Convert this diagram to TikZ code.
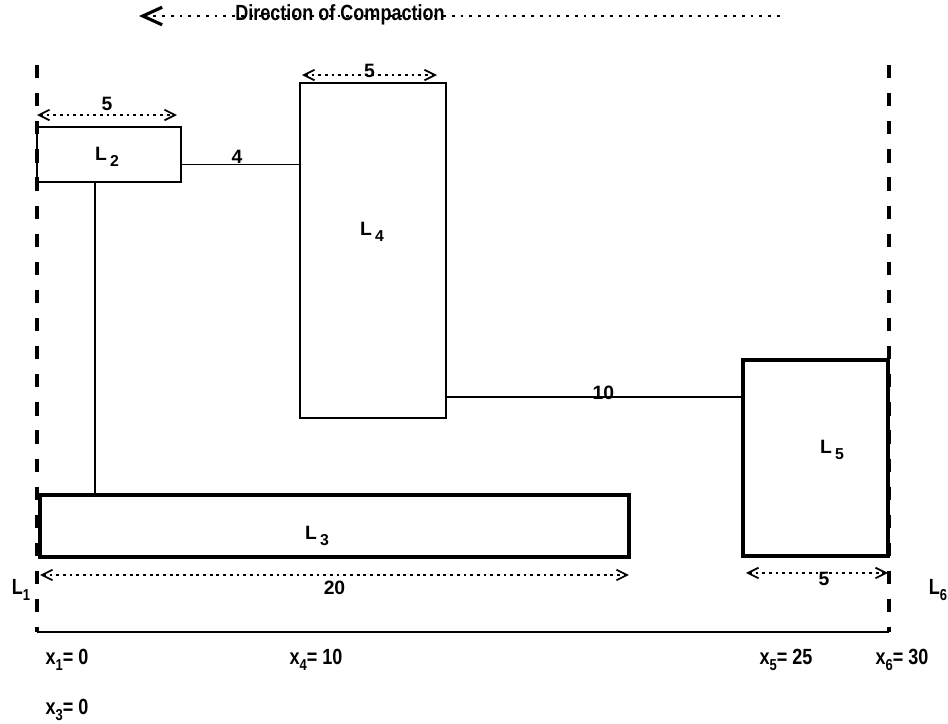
\documentclass[tikz,border=0pt]{standalone}
\usepackage{fontspec}
\setmainfont{Liberation Sans}
\newfontfamily\narrowfont[FakeStretch=0.82]{Liberation Sans}
\usetikzlibrary{arrows.meta,positioning}
\newcommand{\lowidx}[1]{\raisebox{-0.55ex}{\fontsize{9}{10}\selectfont #1}}

\begin{document}
\begin{tikzpicture}[x=0.02cm,y=-0.02cm,
  every node/.style={font=\bfseries\fontsize{11}{13}\selectfont,inner sep=1pt},
  tall/.style={font=\narrowfont\bfseries\fontsize{12.5}{14}\selectfont},
  cell/.style={draw,line width=0.9pt,inner sep=0pt,outer sep=0pt},
  heavy/.style={cell,line width=2.4pt},
  link/.style={line width=0.9pt},
  dim/.style={{Straight Barb[length=6pt,width=6pt,line width=1pt]}-{Straight Barb[length=6pt,width=6pt,line width=1pt]},line width=0.9pt,dash pattern=on 1.6pt off 2.2pt},
  wall/.style={line width=2.4pt,dash pattern=on 7.5pt off 8.5pt}]
  \useasboundingbox (0,0) rectangle (948,724);

  \coordinate (tail) at (780,16);
  \coordinate (head) at (139,16);
  \draw[line width=1.5pt,dash pattern=on 1.6pt off 3.4pt,{Straight Barb[length=11pt,width=10pt,line width=1.8pt]}-] (head) -- (tail);
  \node[tall,anchor=base] (title) at (340,20) {Direction of Compaction};

  \node[cell,minimum width=2.88cm,minimum height=1.1cm] (L2) at (109,154.5) {};
  \node[cell,minimum width=2.92cm,minimum height=6.7cm] (L4) at (373,250.5) {};
  \node[heavy,minimum width=11.78cm,minimum height=1.24cm] (L3) at (334.5,526) {};
  \node[heavy,minimum width=2.9cm,minimum height=3.92cm] (L5) at (815.5,458) {};

  \node (t2) at (107,157) {L\,\lowidx{2}};
  \node (t4) at (372,232) {L\,\lowidx{4}};
  \node (t3) at (317,536) {L\,\lowidx{3}};
  \node (t5) at (832,450) {L\,\lowidx{5}};

  \draw[link] (L2.-8) -- node[above=-1pt,pos=0.47] (w24) {4} (L2.-8 -| L4.west);
  \draw[link] (L2.243) -- (L2.243 |- L3.north);
  \draw[link] (L5.140 -| L4.east) -- node[above=-3pt,pos=0.53] (w45) {10} (L5.140);

  \draw[dim] ([yshift=0.24cm]L2.north west) -- node[above=1pt] (d2) {5} ([yshift=0.24cm,xshift=-0.08cm]L2.north east);
  \draw[dim] ([yshift=0.16cm,xshift=0.04cm]L4.north west) -- node[above=-3pt] (d4) {5} ([yshift=0.16cm,xshift=-0.18cm]L4.north east);
  \draw[dim] ([yshift=-0.36cm]L3.south west) -- node[below=2pt] (d3) {20} ([yshift=-0.36cm]L3.south east);
  \draw[dim] ([yshift=-0.34cm,xshift=0.06cm]L5.south west) -- node[below=-2pt,pos=0.55] (d5) {5} ([yshift=-0.34cm]L5.south east);

  \coordinate (w1top) at (37,65);
  \coordinate (w1bot) at (37,632);
  \coordinate (w6top) at (889,65);
  \coordinate (w6bot) at (889,632);
  \draw[wall] (w1top) -- (w1bot);
  \draw[wall] (w6top) -- (w6bot);
  \draw[line width=1.2pt] (w1bot) -- (w6bot);
  \node[tall] (l1) at (21,590) {L\lowidx{1}};
  \node[tall] (l6) at (938,590) {L\lowidx{6}};

  \node[tall] (x1) at (67,660) {x\lowidx{1}= 0};
  \node[tall] (x4) at (316,660) {x\lowidx{4}= 10};
  \node[tall] (x5) at (786,660) {x\lowidx{5}= 25};
  \node[tall] (x6) at (902,660) {x\lowidx{6}= 30};
  \node[tall] (x3) at (67,710) {x\lowidx{3}= 0};
\end{tikzpicture}
\end{document}
